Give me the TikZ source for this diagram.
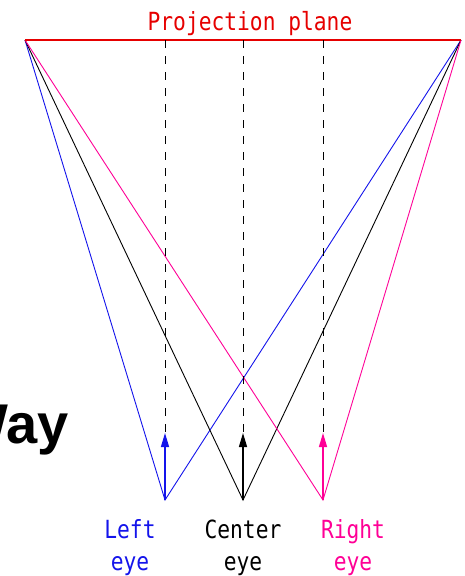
\documentclass[tikz,border=0pt]{standalone}
\usepackage{fontspec}
\usetikzlibrary{arrows.meta,positioning}
\newfontfamily\pixfont{DejaVu Sans Mono}
\newfontfamily\bigsans{Liberation Sans}
\definecolor{eyeblue}{RGB}{20,20,235}
\definecolor{eyepink}{RGB}{255,0,150}
\definecolor{planered}{RGB}{230,0,0}
\tikzset{
    rayline/.style={
        line width=0.9pt
    },
    % arrow from the eye up to the projected point
    eyearrow/.style={
        line width=1.3pt,
        -{Triangle[length=14pt, width=8pt]}
    },
    dashline/.style={
        line width=1pt,
        black,
        dash pattern=on 8pt off 8pt
    },
    pixlabel/.style={
        inner sep=0pt,
        font=\pixfont\fontsize{25}{27}\selectfont
    }
}

\begin{document}
\begin{tikzpicture}[x=1pt,y=-1pt]
	\useasboundingbox (0,0) rectangle (465,576);
	
	% ===================== points =====================
	\path
	(25,40) coordinate (pl_l)
	(461,40) coordinate (pl_r)
	
	(165,500) coordinate (eye_l)
	(243,500) coordinate (eye_c)
	(323,500) coordinate (eye_r)
	
	(165,40) coordinate (top_l)
	(243,40) coordinate (top_c)
	(323,40) coordinate (top_r)
	
	(165,441) coordinate (tip_l)
	(243,441) coordinate (tip_c)
	(323,441) coordinate (tip_r)
	
	(165,433) coordinate (hit_l)
	(243,433) coordinate (hit_c)
	(323,433) coordinate (hit_r);
	
	% rays from each eye to both ends of the plane
	\draw[rayline,eyeblue] (pl_l) -- (eye_l) -- (pl_r);
	\draw[rayline,black] (pl_l) -- (eye_c) -- (pl_r);
	\draw[rayline,eyepink] (pl_l) -- (eye_r) -- (pl_r);
	
	% projection plane
	\draw[line width=1.6pt,planered] (pl_l) -- (pl_r);
	
	% dashed verticals
	\draw[dashline] (top_l) -- (tip_l);
	\draw[dashline] (top_c) -- (tip_c);
	\draw[dashline] (top_r) -- (tip_r);
	
	% eye arrows
	\draw[eyearrow,eyeblue] (eye_l) -- (hit_l);
	\draw[eyearrow,black] (eye_c) -- (hit_c);
	\draw[eyearrow,eyepink] (eye_r) -- (hit_r);
	
	% text
	\node[pixlabel,planered,anchor=base] (plane) at (250,30) {\scalebox{0.85}[1]{Projection plane}};
	\node[pixlabel,eyeblue,anchor=base] (left) at (130,538) {\scalebox{0.85}[1]{Left}};
	\node[pixlabel,eyeblue,anchor=base] (lefteye) at (130,570) {\scalebox{0.85}[1]{eye}};
	\node[pixlabel,black,anchor=base] (center) at (243,538) {\scalebox{0.85}[1]{Center}};
	\node[pixlabel,black,anchor=base] (centereye) at (243,570) {\scalebox{0.85}[1]{eye}};
	\node[pixlabel,eyepink,anchor=base] (right) at (353,538) {\scalebox{0.85}[1]{Right}};
	\node[pixlabel,eyepink,anchor=base] (righteye) at (353,570) {\scalebox{0.85}[1]{eye}};
	
	\node[inner sep=0pt,anchor=base east,font=\bigsans\bfseries\fontsize{56}{58}\selectfont] (way) at (69,443) {Way};
\end{tikzpicture}
\end{document}
